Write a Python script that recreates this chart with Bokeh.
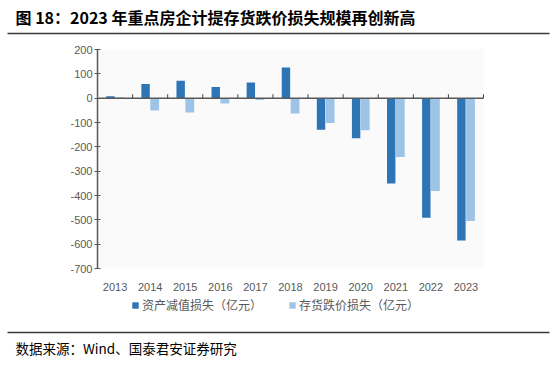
from bokeh.plotting import figure
from bokeh.models import (ColumnDataSource, FixedTicker, Label, Legend, LegendItem, Range1d, BoxAnnotation)
from bokeh.embed import file_html
from bokeh.resources import INLINE

years = ["2013", "2014", "2015", "2016", "2017", "2018", "2019", "2020", "2021", "2022", "2023"]
asset_impairment = [8, 58, 72, 46, 64, 126, -130, -165, -351, -491, -585]
inventory_writedown = [4, -51, -59, -22, -8, -63, -102, -132, -242, -381, -505]
y_ticks = [-700, -600, -500, -400, -300, -200, -100, 0, 100, 200]

title_text = "图 18：2023 年重点房企计提存货跌价损失规模再创新高"
source_text = "数据来源：Wind、国泰君安证券研究"
name1 = "资产减值损失（亿元）"
name2 = "存货跌价损失（亿元）"

# ---- layout: the frame fills the canvas; plot area is mapped into it ----
W, H = 556, 369
PL, PR, PT, PB = 97, 483, 49, 268          # plot-area edges in page pixels
YMIN, YMAX = -700, 200
N = len(years)
ux = N / (PR - PL)                          # x units per pixel
uy = (YMAX - YMIN) / (PB - PT)              # y units per pixel


def dx(px):
    return (px - PL) * ux


def dy(py):
    return YMIN + (PB - py) * uy


p = figure(width=W, height=H, title=None, x_range=Range1d(dx(0), dx(W)), y_range=Range1d(dy(H), dy(0)),
           output_backend="svg", toolbar_location=None, min_border=0)
p.outline_line_color = None
p.background_fill_color = "white"
p.border_fill_color = "white"
p.xgrid.visible = False
p.ygrid.visible = False

# plot area background
p.add_layout(BoxAnnotation(left=0, right=N, bottom=YMIN, top=YMAX, fill_color="#fafafa",
                           fill_alpha=1, line_color=None, level="underlay"))

xc = [i + 0.5 for i in range(N)]
src = ColumnDataSource(dict(x1=[x - 0.13 for x in xc], x2=[x + 0.13 for x in xc],
                            a=asset_impairment, b=inventory_writedown))
dark = "#2E75B6"
light = "#9DC3E6"
r1 = p.vbar(x="x1", top="a", width=0.24, source=src, fill_color=dark, line_color=None)
r2 = p.vbar(x="x2", top="b", width=0.25, source=src, fill_color=light, line_color=None)

# zero line and category boundary ticks
gray = "#595959"
p.segment(x0=[0], y0=[0], x1=[N], y1=[0], line_color=gray, line_width=1.5)
bx = list(range(1, N + 1))
p.segment(x0=bx, y0=[0] * N, x1=bx, y1=[16] * N, line_color="#404040", line_width=1)

# axes drawn at fixed positions inside the frame
yax = p.yaxis[0]
yax.fixed_location = 0
yax.bounds = (YMIN, YMAX)
yax.ticker = FixedTicker(ticks=y_ticks)
yax.major_label_overrides = {t: str(t) for t in y_ticks}
yax.axis_line_color = gray
yax.axis_line_width = 1.5
yax.major_tick_line_color = gray
yax.major_tick_out = 3
yax.major_tick_in = 3
yax.minor_tick_line_color = None
yax.major_label_text_color = gray
yax.major_label_text_font = "Liberation Sans"
yax.major_label_text_font_size = "11px"
yax.major_label_standoff = 2

xax = p.xaxis[0]
xax.fixed_location = YMIN
xax.ticker = FixedTicker(ticks=xc)
xax.major_label_overrides = {x: y for x, y in zip(xc, years)}
xax.axis_line_color = None
xax.major_tick_line_color = None
xax.minor_tick_line_color = None
xax.major_label_text_color = gray
xax.major_label_text_font = "Liberation Sans"
xax.major_label_text_font_size = "11px"
xax.major_label_standoff = 8

legend = Legend(items=[LegendItem(label=name1, renderers=[r1]), LegendItem(label=name2, renderers=[r2])],
                orientation="horizontal", location=(131, H - 313), border_line_color=None,
                background_fill_alpha=0, glyph_width=8, glyph_height=8, label_height=12,
                label_standoff=3, spacing=26, padding=0, margin=0,
                label_text_font="Noto Sans CJK SC", label_text_font_size="12px", label_text_color=gray)
p.add_layout(legend, "center")

# header / footer
p.add_layout(Label(x=dx(15), y=dy(16), text=title_text, text_font="Noto Sans CJK SC",
                   text_font_style="bold", text_font_size="16px", text_color="black",
                   text_baseline="middle"))
p.add_layout(Label(x=dx(15), y=dy(347), text=source_text, text_font="Noto Sans CJK SC",
                   text_font_size="13.5px", text_color="black", text_baseline="middle"))
p.segment(x0=[dx(7), dx(7)], y0=[dy(33), dy(332)], x1=[dx(549), dx(549)], y1=[dy(33), dy(332)],
          line_color="#3a3a3a", line_width=1.5)

open("out.html", "w").write(file_html(p, INLINE))
